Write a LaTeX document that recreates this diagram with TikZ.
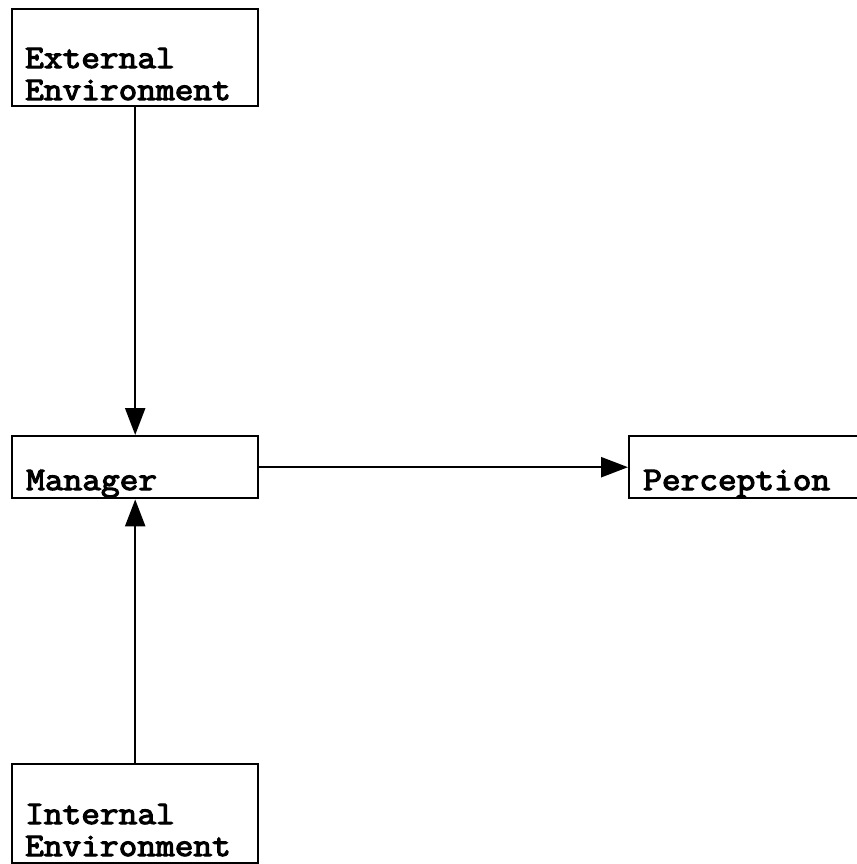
\documentclass[tikz,border=0pt]{standalone}
\usepackage{fontspec}
\newfontfamily\typewriter{Latin Modern Mono}[FakeBold=3.5,FakeStretch=1.1]
\usetikzlibrary{arrows.meta}
\begin{document}
\begin{tikzpicture}[x=1pt,y=-1pt,
  box/.style={draw, line width=2.4pt, rectangle, inner sep=0pt, anchor=north west},
  lbl/.style={font=\typewriter\fontsize{33}{32}\selectfont, align=left, anchor=base west, inner sep=0pt},
  flow/.style={line width=2.4pt, -{Triangle[length=27pt,width=20pt]}}]
\useasboundingbox (0,0) rectangle (856,864);
% boxes
\node[box, minimum width=246pt, minimum height=97pt] (ext) at (11,8) {};
\node[box, minimum width=246pt, minimum height=62pt] (mgr) at (11,435) {};
\node[box, minimum width=250pt, minimum height=62pt] (per) at (628,435) {};
\node[box, minimum width=246pt, minimum height=99pt] (int) at (11,763) {};
% labels (anchored at the baseline of the last line)
\node[lbl] (extlbl) at (25,100) {External\\Environment};
\node[lbl] (mgrlbl) at (26,490) {Manager};
\node[lbl] (perlbl) at (643,490) {Perception};
\node[lbl] (intlbl) at (25,856) {Internal\\Environment};
% connectors
\draw[flow] (ext.south) -- (mgr.north);
\draw[flow] (int.north) -- (mgr.south);
\draw[flow] (mgr.east) -- (per.west);
\end{tikzpicture}
\end{document}
